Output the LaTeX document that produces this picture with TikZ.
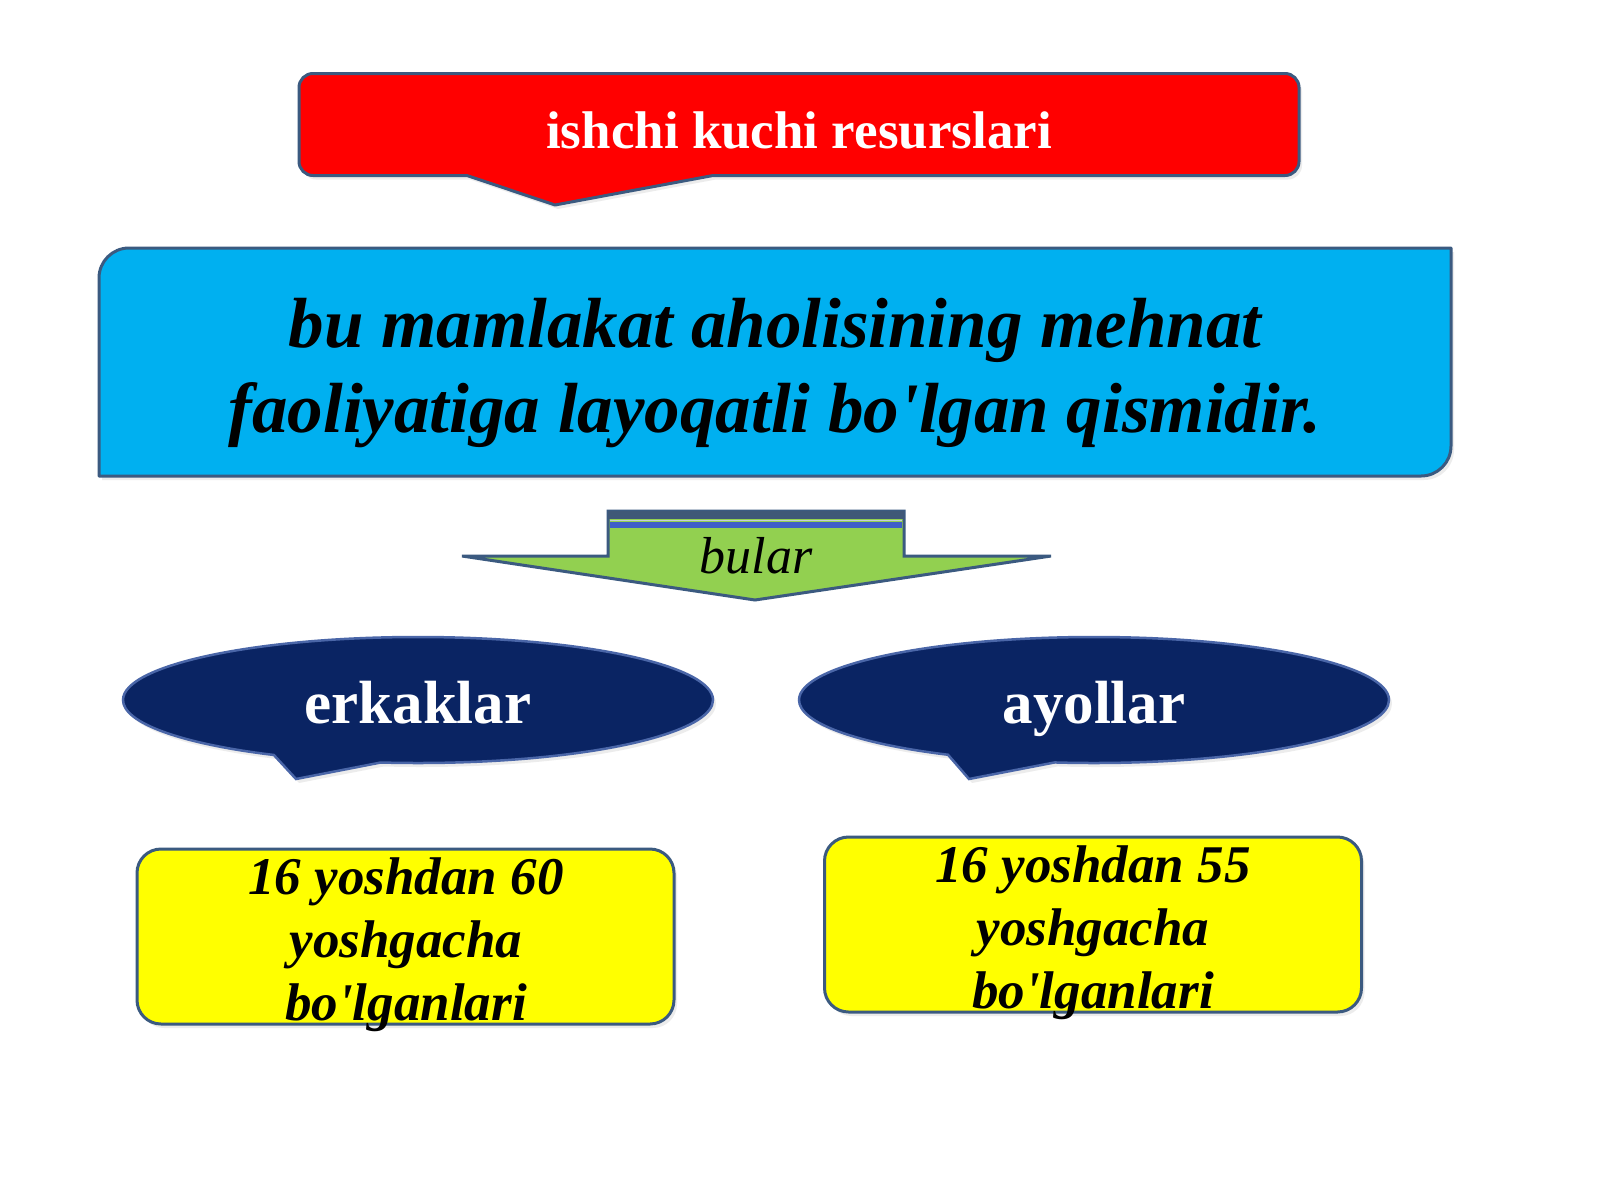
\documentclass[tikz,border=0pt]{standalone}
\usepackage{fontspec}
\setmainfont{Liberation Serif}
\usetikzlibrary{shapes.callouts,shadows}
\definecolor{bordc}{HTML}{3B5A80}
\definecolor{ellbord}{HTML}{4A66A8}
\definecolor{redf}{HTML}{FF0000}
\definecolor{bluef}{HTML}{00B0F0}
\definecolor{greenf}{HTML}{92D050}
\definecolor{navyf}{HTML}{0A2463}
\definecolor{yellowf}{HTML}{FFFF00}
\definecolor{barblue}{HTML}{3F5FC8}
\definecolor{bardark}{HTML}{3F5877}
\tikzset{
  shapeline/.style={draw=bordc, line width=3pt, line join=round},
  softshadow/.style={drop shadow={shadow xshift=3pt, shadow yshift=-4pt, opacity=0.12, fill=black!60}},
  label/.style={inner sep=0pt, outer sep=0pt},
  callbox/.style={ellipse callout, fill=navyf, draw=ellbord, line width=2.5pt,
     minimum width=590, minimum height=126, inner sep=0pt, callout pointer arc=22},
  agebox/.style={rectangle, rounded corners=24, fill=yellowf, draw=bordc, line width=3pt,
     minimum width=537, minimum height=175, inner sep=0pt, softshadow},
}
\begin{document}
\begin{tikzpicture}[x=1pt, y=-1pt]
\useasboundingbox (0,0) rectangle (1600,1200);
\fill[white] (0,0) rectangle (1600,1200);

% red title callout
\path[softshadow, fill=redf, shapeline] (313,73.5) -- (1285,73.5) arc[start angle=270,end angle=360,radius=14]
  -- (1299,161.5) arc[start angle=0,end angle=90,radius=14]
  -- (713,175.5) -- (555,205) -- (467,175.5)
  -- (313,175.5) arc[start angle=90,end angle=180,radius=14]
  -- (299,87.5) arc[start angle=180,end angle=270,radius=14] -- cycle;
\node[label, text=white, font=\bfseries\fontsize{53}{63}\selectfont, anchor=base] (title) at (799,148) {ishchi kuchi resurslari};

% blue definition box
\path[softshadow, fill=bluef, shapeline] (99,476) -- (99,278) arc[start angle=180,end angle=270,radius=30]
  -- (1451,248) -- (1451,446) arc[start angle=0,end angle=90,radius=30] -- cycle;
\node[label, align=center, font=\bfseries\itshape\fontsize{71}{85}\selectfont, anchor=base] (def) at (775,432)
  {bu mamlakat aholisining mehnat\\faoliyatiga layoqatli bo\textquotesingle lgan qismidir.};

% green arrow
\path[fill=greenf, draw=bordc, line width=3pt, line join=miter]
  (608,511) -- (904,511) -- (904,556) -- (1051,556) -- (755,600) -- (462,556) -- (608,556) -- cycle;
\fill[bardark] (608,511) rectangle (904,519);
\fill[barblue] (610,522) rectangle (902,528);
\draw[line width=1pt, white!70!bordc] (610,520.5) -- (902,520.5);
\node[label, font=\itshape\fontsize{52}{62}\selectfont, anchor=base] (bular) at (756,573) {bular};

% ellipse callouts
\node[callbox, callout absolute pointer={(296,779)}, softshadow] (men) at (418,700) {};
\node[callbox, callout absolute pointer={(969,779)}, softshadow] (women) at (1094,700) {};
\node[label, text=white, font=\bfseries\fontsize{61}{70}\selectfont, anchor=base] (mentext) at (418,723) {erkaklar};
\node[label, text=white, font=\bfseries\fontsize{61}{70}\selectfont, anchor=base] (womentext) at (1094,723) {ayollar};

% yellow boxes
\node[agebox] (menbox) at (405.5,936.5) {};
\node[agebox] (womenbox) at (1093,924.5) {};
\node[label, align=center, font=\bfseries\itshape\fontsize{53}{63}\selectfont, anchor=base] (menage) at (406,1020)
  {16 yoshdan 60\\yoshgacha\\bo\textquotesingle lganlari};
\node[label, align=center, font=\bfseries\itshape\fontsize{53}{63}\selectfont, anchor=base] (womenage) at (1093,1008)
  {16 yoshdan 55\\yoshgacha\\bo\textquotesingle lganlari};
\end{tikzpicture}
\end{document}
